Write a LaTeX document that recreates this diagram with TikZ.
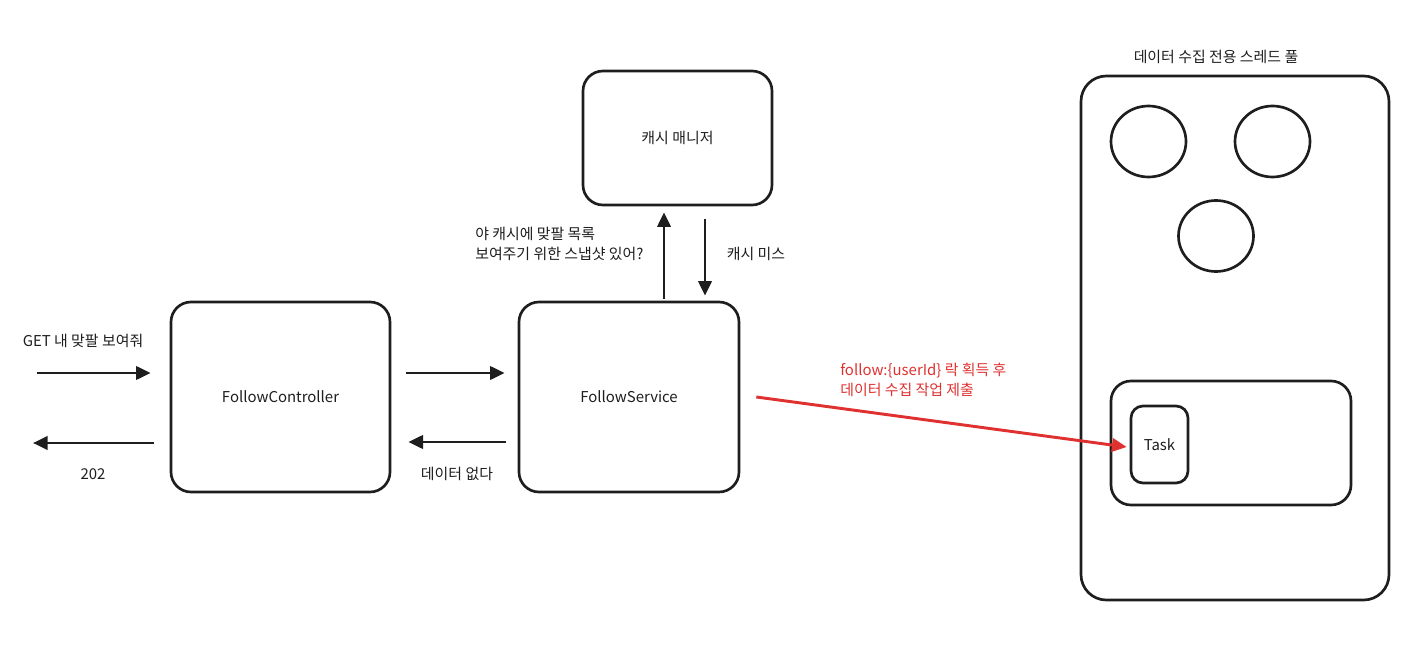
\documentclass[tikz,border=0pt]{standalone}
\usepackage{fontspec}
\setmainfont{Noto Sans CJK KR}
\usetikzlibrary{arrows.meta,calc,shapes.geometric}
\definecolor{myred}{HTML}{E03131}
\definecolor{ink}{HTML}{1E1E1E}
\begin{document}
\begin{tikzpicture}[x=0.75pt,y=-0.75pt,
  lbl/.style={font=\fontsize{11.2}{15}\selectfont, inner sep=0pt, text=ink},
  box/.style={draw=ink, line width=2pt, rounded corners=15pt, inner sep=0pt, lbl},
  circ/.style={draw=ink, line width=2pt, ellipse, minimum width={75*0.75pt}, minimum height={71*0.75pt}},
  arr/.style={draw=ink, line width=2.2pt, -{Triangle[length=11pt,width=10pt]}},
  redarr/.style={draw=myred, line width=2.2pt, -{Triangle[length=11pt,width=10pt]}}]
\useasboundingbox (0,0) rectangle (1407,656);

% boxes
\node[box, minimum width={219*0.75pt}, minimum height={190*0.75pt}] (ctrl) at (280.5,397) {FollowController};
\node[box, minimum width={220*0.75pt}, minimum height={190*0.75pt}] (svc) at (629,397) {FollowService};
\node[box, minimum width={189*0.75pt}, minimum height={134*0.75pt}] (cache) at (677.5,138) {캐시 매니저};
\node[box, rounded corners=19pt, minimum width={308*0.75pt}, minimum height={524*0.75pt}] (pool) at (1235,338) {};
\node[box, minimum width={240*0.75pt}, minimum height={124*0.75pt}] (inner) at (1231,443) {};
\node[box, rounded corners=9pt, minimum width={57*0.75pt}, minimum height={77*0.75pt}] (task) at (1159.5,444.5) {Task};
\node[circ] (c1) at (1148.5,141.5) {};
\node[circ] (c2) at (1272.5,141.5) {};
\node[circ] (c3) at (1216,236) {};

% free ends
\coordinate (gin) at (37,373);
\coordinate (gout) at (33,443);

% connectors
\draw[arr] (gin) -- ($(ctrl.west)+(-19,-24)$);
\draw[arr] ($(ctrl.west)+(-16,46)$) -- (gout);
\draw[arr] ($(ctrl.east)+(15,-24)$) -- ($(svc.west)+(-13,-24)$);
\draw[arr] ($(svc.west)+(-12,45)$) -- ($(ctrl.east)+(17,45)$);
\draw[arr] ($(svc.north)+(35,-2)$) -- ($(cache.south)+(-13.5,6)$);
\draw[arr] ($(cache.south)+(27.5,13)$) -- ($(svc.north)+(76,-5)$);
\draw[redarr] ($(svc.east)+(16,0)$) -- ($(task.west)+(-3,2.5)$);

% labels
\node[lbl] (lget) at (83,341) {GET 내 맞팔 보여줘};
\node[lbl] (l202) at (93,474) {202};
\node[lbl] (lnone) at (457,474) {데이터 없다};
\node[lbl, anchor=west, align=left] (lask) at (475,244) {야 캐시에 맞팔 목록\\보여주기 위한 스냅샷 있어?};
\node[lbl] (lmiss) at (756,254) {캐시 미스};
\node[lbl, anchor=west, align=left, text=myred] (lred) at (840,380) {follow:\{userId\} 락 획득 후\\데이터 수집 작업 제출};
\node[lbl] (lpool) at (1216,57) {데이터 수집 전용 스레드 풀};
\end{tikzpicture}
\end{document}
